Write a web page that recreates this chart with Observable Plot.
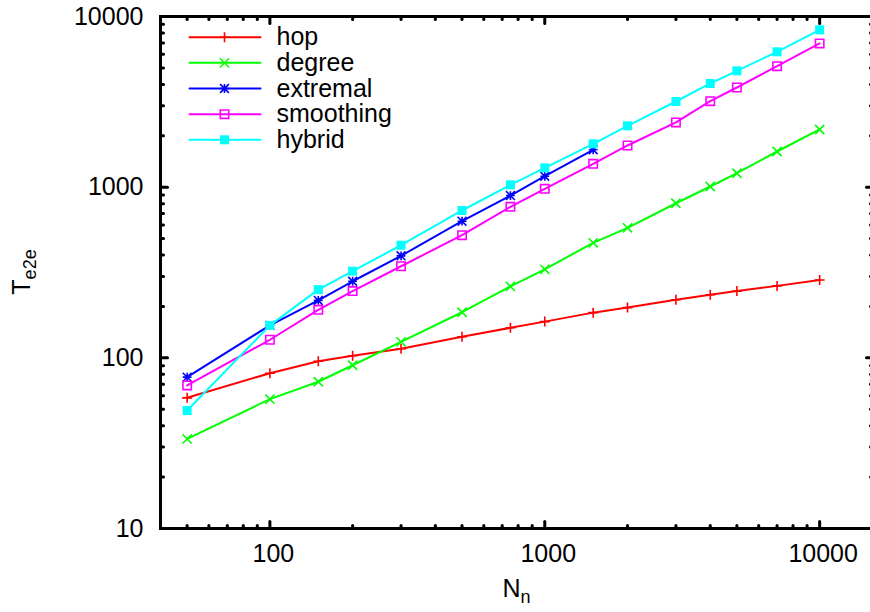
<!DOCTYPE html>
<html>
<head>
<meta charset="utf-8">
<script src="https://cdn.jsdelivr.net/npm/d3@7"></script>
<script src="https://cdn.jsdelivr.net/npm/@observablehq/plot@0.6"></script>
<style>
  html, body { margin: 0; padding: 0; background: #fff; overflow: hidden; }
  #chart { width: 870px; height: 612px; }
</style>
</head>
<body>
<div id="chart"></div>
<script>
// Network size (number of nodes) on the x axis
const nodes = [50, 100, 150, 200, 300, 500, 750, 1000, 1500, 2000, 3000, 4000, 5000, 7000, 10000];

// End-to-end time for each strategy
const hop       = [58.3, 81.3, 95.5, 102.8, 113, 133, 150, 163, 184, 197, 219, 234, 246, 264, 286];
const degree    = [33.5, 57.3, 72.4, 90.5, 124, 185, 262, 330, 472, 578, 805, 1009, 1207, 1618, 2178];
const extremal  = [77.1, 155, 217, 281, 396, 632, 893, 1159, 1656];
const smoothing = [68.9, 127.6, 191, 246, 344, 523, 767, 978, 1371, 1755, 2394, 3190, 3837, 5116, 6950];
const hybrid    = [49.1, 155, 251, 322, 457, 730, 1032, 1298, 1795, 2288, 3177, 4051, 4805, 6211, 8357];

const seriesNames  = ["hop", "degree", "extremal", "smoothing", "hybrid"];
const seriesValues = [hop, degree, extremal, smoothing, hybrid];
const seriesColors = ["#ff0000", "#00ff00", "#0000ff", "#ff00ff", "#00ffff"];

// Axis tick labels
const xMajorTicks = [100, 1000, 10000];
const yMajorTicks = [10, 100, 1000, 10000];

const xDomain = [40, 15700];
const yDomain = [10, 10000];

// Minor ticks at 2..9 times each decade, kept inside the domain
const decades = [1, 10, 100, 1000, 10000];
const minorOf = (dom) => decades.flatMap(d => d3.range(2, 10).map(k => k * d))
  .filter(v => v > dom[0] && v < dom[1]);
const xMinorTicks = minorOf(xDomain);
const yMinorTicks = minorOf(yDomain);

// Point symbols (stroked plus, times, asterisk; open and filled squares)
const rad = (size) => Math.sqrt(size / Math.PI);
const plusSym = { draw(c, s) { const r = rad(s); c.moveTo(-r, 0); c.lineTo(r, 0); c.moveTo(0, -r); c.lineTo(0, r); } };
const timesSym = { draw(c, s) { const r = rad(s); c.moveTo(-r, -r); c.lineTo(r, r); c.moveTo(-r, r); c.lineTo(r, -r); } };
const starSym = { draw(c, s) { plusSym.draw(c, s); timesSym.draw(c, s); } };
const squareSym = { draw(c, s) { const r = rad(s); c.rect(-r, -r, 2 * r, 2 * r); } };

const markerStyle = [
  { symbol: plusSym, r: 5, fill: "none", strokeWidth: 1.6 },
  { symbol: timesSym, r: 4.6, fill: "none", strokeWidth: 1.6 },
  { symbol: starSym, r: 4.4, fill: "none", strokeWidth: 1.6 },
  { symbol: squareSym, r: 4.2, fill: "none", strokeWidth: 1.6 },
  { symbol: squareSym, r: 4.5, fill: "fill", strokeWidth: 0 }
];

// Short straight stroke used for inward ticks and legend samples
const strokeShape = { draw(c, l) { c.moveTo(0, 0); c.lineTo(0, -l); } };

const fontSize = 25;
const majorLen = 7, minorLen = 3;

const marks = [];

// Data lines and points
seriesNames.forEach((name, i) => {
  const rows = seriesValues[i].map((v, j) => ({ n: nodes[j], t: v }));
  const color = seriesColors[i];
  const m = markerStyle[i];
  marks.push(Plot.line(rows, { x: "n", y: "t", stroke: color, strokeWidth: 2 }));
  marks.push(Plot.dot(rows, {
    x: "n", y: "t", symbol: m.symbol, r: m.r,
    fill: m.fill === "fill" ? color : "none",
    stroke: m.fill === "fill" ? "none" : color,
    strokeWidth: m.strokeWidth
  }));
});

// Border
marks.push(Plot.frame({ stroke: "black", strokeWidth: 3 }));

// Inward ticks on all four sides
const tickOpts = { stroke: "black", strokeWidth: 3, strokeLinecap: "round", anchor: "start", shape: strokeShape };
for (const [vals, len] of [[xMajorTicks, majorLen], [xMinorTicks, minorLen]]) {
  marks.push(Plot.vectorX(vals, { x: d => d, frameAnchor: "bottom", rotate: 0, length: len, ...tickOpts }));
  marks.push(Plot.vectorX(vals, { x: d => d, frameAnchor: "top", rotate: 180, length: len, ...tickOpts }));
}
for (const [vals, len] of [[yMajorTicks, majorLen], [yMinorTicks, minorLen]]) {
  marks.push(Plot.vectorY(vals, { y: d => d, frameAnchor: "left", rotate: 90, length: len, ...tickOpts }));
  marks.push(Plot.vectorY(vals, { y: d => d, frameAnchor: "right", rotate: -90, length: len, ...tickOpts }));
}

// Tick labels
marks.push(Plot.text(xMajorTicks, {
  x: d => d, frameAnchor: "bottom", dy: 25, dx: 3.5, text: d => String(d),
  fontSize, fill: "black", textAnchor: "middle", lineAnchor: "middle"
}));
marks.push(Plot.text(yMajorTicks, {
  y: d => d, frameAnchor: "left", dx: -17, text: d => String(d),
  fontSize, fill: "black", textAnchor: "end", lineAnchor: "middle"
}));

// Legend in the upper-left corner of the frame
seriesNames.forEach((name, i) => {
  const dy = 20.7 + i * 25.65;
  const color = seriesColors[i];
  const m = markerStyle[i];
  marks.push(Plot.vector([name], {
    frameAnchor: "top-left", dx: 29, dy, rotate: 90, length: 71, anchor: "start",
    shape: strokeShape, stroke: color, strokeWidth: 2
  }));
  marks.push(Plot.dot([name], {
    frameAnchor: "top-left", dx: 64, dy, symbol: m.symbol, r: m.r,
    fill: m.fill === "fill" ? color : "none",
    stroke: m.fill === "fill" ? "none" : color,
    strokeWidth: m.strokeWidth
  }));
  marks.push(Plot.text([name], {
    frameAnchor: "top-left", dx: 116, dy, text: d => d,
    fontSize, fill: "black", textAnchor: "start", lineAnchor: "middle"
  }));
});

const chart = Plot.plot({
  width: 870,
  height: 612,
  marginTop: 16,
  marginRight: -3,
  marginBottom: 84,
  marginLeft: 160,
  style: { fontFamily: "'Liberation Sans', Arial, Helvetica, sans-serif", fontSize: fontSize + "px", background: "#fff", color: "black" },
  x: { type: "log", domain: xDomain, axis: null },
  y: { type: "log", domain: yDomain, axis: null },
  marks
});

// Axis titles with subscripts
const svg = d3.select(chart);
const cx = (160 + 873) / 2, cy = (16 + 528) / 2;
const yTitle = svg.append("text")
  .attr("transform", `translate(30,${cy}) rotate(-90)`)
  .attr("text-anchor", "middle")
  .attr("font-size", fontSize)
  .attr("fill", "black");
yTitle.append("tspan").text("T");
yTitle.append("tspan").attr("font-size", 18).attr("dy", 6).text("e2e");

const xTitle = svg.append("text")
  .attr("x", cx).attr("y", 597)
  .attr("text-anchor", "middle")
  .attr("font-size", fontSize)
  .attr("fill", "black");
xTitle.append("tspan").text("N");
xTitle.append("tspan").attr("font-size", 18).attr("dy", 6).text("n");

document.getElementById("chart").appendChild(chart);
</script>
</body>
</html>
